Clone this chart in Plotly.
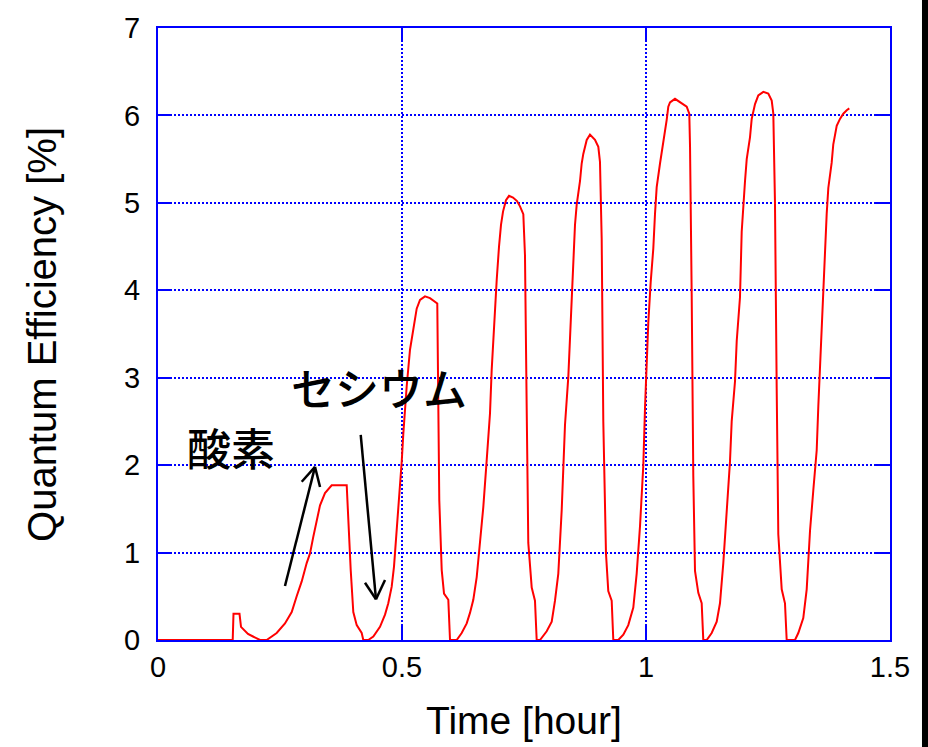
import plotly.graph_objects as go

# Time [hour] and quantum efficiency [%]
time_h = [
    0.000, 0.1531, 0.1547, 0.1670, 0.1701, 0.1762, 0.1844, 0.1947, 0.2049, 0.2090,
    0.2227, 0.2432, 0.2602, 0.2740, 0.2842, 0.2945, 0.3047, 0.3115, 0.3182, 0.3252,
    0.3320, 0.3422, 0.3525, 0.3559, 0.3867, 0.3887, 0.3920, 0.3949, 0.4002, 0.4072,
    0.4174, 0.4207, 0.4309, 0.4412, 0.4549, 0.4652, 0.4719, 0.4789, 0.4836, 0.4877,
    0.4924, 0.4959, 0.4994, 0.5027, 0.5061, 0.5096, 0.5164, 0.5232, 0.5301, 0.5369,
    0.5471, 0.5574, 0.5676, 0.5723, 0.5764, 0.5814, 0.5861, 0.5949, 0.5984, 0.6121,
    0.6223, 0.6326, 0.6393, 0.6461, 0.6531, 0.6598, 0.6666, 0.6736, 0.6803, 0.6838,
    0.6871, 0.6906, 0.6941, 0.6988, 0.7029, 0.7070, 0.7131, 0.7193, 0.7275, 0.7357,
    0.7418, 0.7486, 0.7520, 0.7555, 0.7588, 0.7658, 0.7725, 0.7760, 0.7828, 0.7965,
    0.8068, 0.8135, 0.8203, 0.8273, 0.8340, 0.8408, 0.8443, 0.8477, 0.8510, 0.8545,
    0.8580, 0.8648, 0.8682, 0.8715, 0.8785, 0.8852, 0.8955, 0.9023, 0.9057, 0.9092,
    0.9125, 0.9180, 0.9227, 0.9297, 0.9330, 0.9432, 0.9535, 0.9637, 0.9740, 0.9809,
    0.9877, 0.9945, 0.9980, 1.0014, 1.0047, 1.0096, 1.0150, 1.0184, 1.0219, 1.0287,
    1.0342, 1.0389, 1.0424, 1.0457, 1.0492, 1.0594, 1.0697, 1.0834, 1.0887, 1.0902,
    1.0936, 1.0969, 1.1004, 1.1072, 1.1141, 1.1174, 1.1244, 1.1346, 1.1449, 1.1516,
    1.1584, 1.1654, 1.1721, 1.1756, 1.1824, 1.1859, 1.1926, 1.1961, 1.1994, 1.2029,
    1.2064, 1.2131, 1.2166, 1.2234, 1.2301, 1.2404, 1.2506, 1.2576, 1.2609, 1.2643,
    1.2678, 1.2711, 1.2781, 1.2848, 1.2883, 1.3053, 1.3121, 1.3223, 1.3293, 1.3361,
    1.3428, 1.3498, 1.3531, 1.3566, 1.3600, 1.3633, 1.3668, 1.3703, 1.3736, 1.3805,
    1.3838, 1.3908, 1.3975, 1.4043, 1.4113, 1.4166,
]
qe_pct = [
    0.00, 0.00, 0.30, 0.30, 0.15, 0.12, 0.07, 0.04, 0.01, 0.00,
    0.00, 0.08, 0.19, 0.32, 0.50, 0.67, 0.88, 0.99, 1.18, 1.37,
    1.54, 1.68, 1.75, 1.77, 1.77, 1.52, 0.99, 0.80, 0.32, 0.17,
    0.08, 0.00, 0.00, 0.04, 0.15, 0.29, 0.42, 0.61, 0.84, 1.14,
    1.49, 1.72, 2.04, 2.36, 2.67, 2.90, 3.32, 3.55, 3.79, 3.89,
    3.93, 3.91, 3.87, 3.85, 1.60, 0.80, 0.53, 0.46, 0.00, 0.00,
    0.08, 0.19, 0.31, 0.46, 0.72, 1.11, 1.52, 2.06, 2.59, 3.09,
    3.47, 3.81, 4.12, 4.50, 4.75, 4.90, 5.03, 5.08, 5.06, 5.02,
    4.96, 4.87, 4.40, 2.66, 1.11, 0.60, 0.45, 0.00, 0.00, 0.10,
    0.21, 0.45, 0.76, 1.49, 2.46, 3.01, 3.47, 3.97, 4.40, 4.75,
    4.98, 5.25, 5.45, 5.56, 5.72, 5.78, 5.72, 5.64, 5.47, 4.59,
    2.50, 0.99, 0.56, 0.45, 0.00, 0.00, 0.06, 0.17, 0.37, 0.76,
    1.30, 2.00, 2.66, 3.16, 3.63, 4.09, 4.48, 4.87, 5.18, 5.45,
    5.64, 5.80, 5.95, 6.10, 6.15, 6.19, 6.15, 6.10, 6.02, 5.65,
    3.96, 1.88, 0.79, 0.54, 0.42, 0.00, 0.00, 0.08, 0.21, 0.42,
    0.88, 1.42, 2.04, 2.50, 2.96, 3.42, 3.92, 4.67, 5.00, 5.25,
    5.50, 5.75, 5.96, 6.13, 6.23, 6.27, 6.25, 6.17, 6.02, 5.00,
    2.88, 1.21, 0.58, 0.42, 0.00, 0.00, 0.08, 0.25, 0.58, 1.25,
    1.71, 2.17, 2.67, 3.13, 3.58, 4.04, 4.54, 4.88, 5.17, 5.46,
    5.67, 5.88, 5.96, 6.02, 6.06, 6.08,
]

x_ticks = [0, 0.5, 1, 1.5]
x_tick_labels = ["0", "0.5", "1", "1.5"]
y_ticks = [0, 1, 2, 3, 4, 5, 6, 7]
y_tick_labels = ["0", "1", "2", "3", "4", "5", "6", "7"]

x_title = "Time [hour]"
y_title = "Quantum Efficiency [%]"
label_oxygen = "酸素"
label_cesium = "セシウム"

BLUE = "#0000ff"
LATIN = "Liberation Sans, Arial, sans-serif"

fig = go.Figure()
fig.add_trace(go.Scatter(
    x=time_h, y=qe_pct, mode="lines",
    line=dict(color="#ff0000", width=2),
    showlegend=False, hoverinfo="skip",
))

axis_common = dict(
    showline=True, linecolor=BLUE, linewidth=2, mirror="ticks",
    ticks="inside", ticklen=14, tickwidth=2, tickcolor=BLUE,
    showgrid=True, gridcolor=BLUE, gridwidth=1.5, griddash="2px,2px",
    zeroline=False,
    tickfont=dict(family=LATIN, size=29, color="black"),
)

fig.update_xaxes(range=[0, 1.5], tickvals=x_ticks, ticktext=x_tick_labels,
                 **axis_common)
fig.update_yaxes(range=[0, 7], tickvals=y_ticks, ticktext=y_tick_labels,
                 ticklabelstandoff=10, **axis_common)

# axis titles
fig.add_annotation(x=0.5, y=-0.131, xref="paper", yref="paper", text=x_title,
                   showarrow=False, xanchor="center", yanchor="middle",
                   font=dict(family=LATIN, size=39, color="black"))
fig.add_annotation(x=-0.1585, y=0.5, xref="paper", yref="paper", text=y_title,
                   showarrow=False, xanchor="center", yanchor="middle", textangle=-90,
                   font=dict(family=LATIN, size=40, color="black"))

ann_font = dict(family="Noto Sans CJK JP", size=44, color="black", weight=500)
fig.add_annotation(x=0.150, y=2.21, xref="x", yref="y", text=label_oxygen,
                   showarrow=False, font=ann_font, xanchor="center", yanchor="middle")
fig.add_annotation(x=0.4529, y=2.894, xref="x", yref="y", text=label_cesium,
                   showarrow=False, font=ann_font, xanchor="center", yanchor="middle")

arrow_line = dict(color="black", width=2.5)
arrows = [
    # (tail, tip, head-left, head-right)
    ((0.2602, 0.618), (0.3217, 1.98), (0.2945, 1.81), (0.3320, 1.75)),
    ((0.4154, 2.345), (0.4467, 0.466), (0.4242, 0.655), (0.4652, 0.686)),
]
for tail, tip, hl, hr in arrows:
    fig.add_shape(type="line", xref="x", yref="y", x0=tail[0], y0=tail[1],
                  x1=tip[0], y1=tip[1], line=arrow_line)
    fig.add_shape(type="line", xref="x", yref="y", x0=hl[0], y0=hl[1],
                  x1=tip[0], y1=tip[1], line=arrow_line)
    fig.add_shape(type="line", xref="x", yref="y", x0=hr[0], y0=hr[1],
                  x1=tip[0], y1=tip[1], line=arrow_line)

# dark stripe at the right edge of the picture
fig.add_shape(type="rect", xref="paper", yref="paper", x0=1.0437, x1=1.07,
              y0=-0.2, y1=1.1, fillcolor="black", line=dict(width=0), layer="above")

fig.update_layout(
    width=928, height=747,
    margin=dict(l=158, r=38, t=28, b=107),
    paper_bgcolor="white", plot_bgcolor="white",
)

fig.write_html(
    "out.html",
    config={"displayModeBar": False},
    post_script="document.body.style.margin='0';document.body.style.overflow='hidden';",
)
